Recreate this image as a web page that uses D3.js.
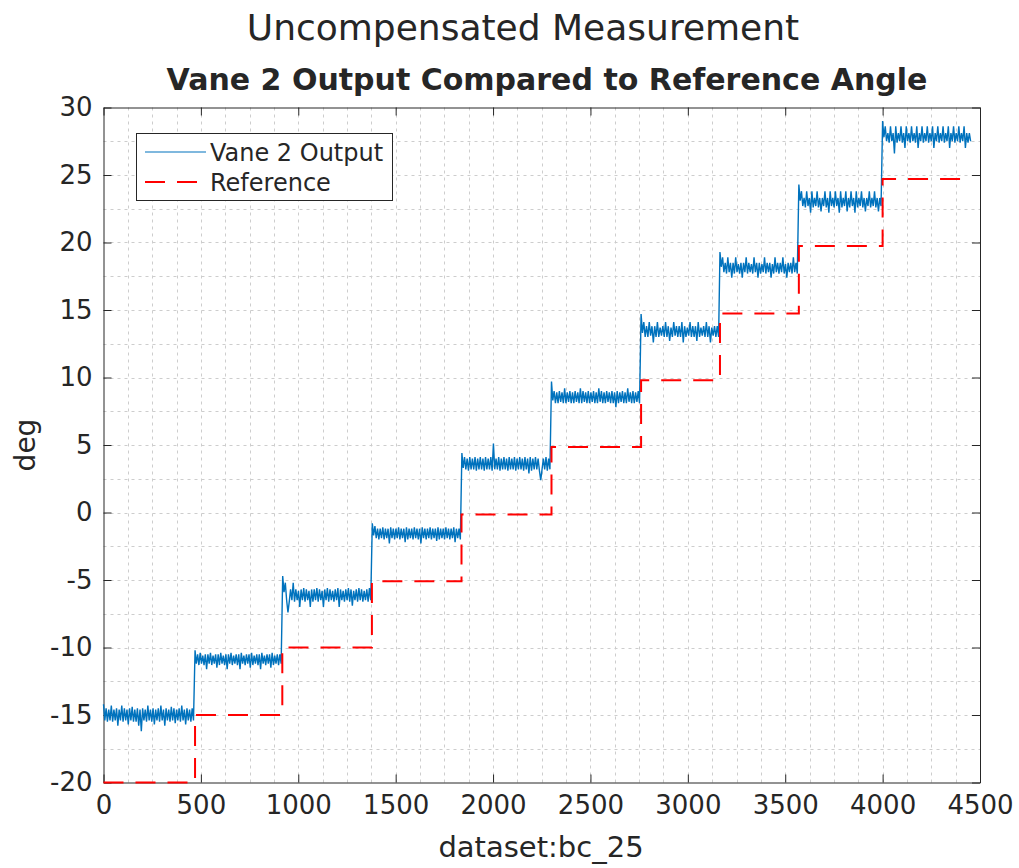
<!DOCTYPE html>
<html>
<head>
<meta charset="utf-8">
<script src="https://cdn.jsdelivr.net/npm/d3@7"></script>
<style>
  html, body { margin: 0; padding: 0; background: #ffffff; }
  svg { display: block; }
  text { font-family: "DejaVu Sans", sans-serif; fill: #262626; }
</style>
</head>
<body>
<svg id="chart" width="1019" height="868"></svg>
<script>
// ---- data -------------------------------------------------------------
const titleText = "Uncompensated Measurement";
const subtitleText = "Vane 2 Output Compared to Reference Angle";
const xLabelText = "dataset:bc_25";
const yLabelText = "deg";
const seriesNames = ["Vane 2 Output", "Reference"];

const xTicks = [0, 500, 1000, 1500, 2000, 2500, 3000, 3500, 4000, 4500];
const yTicks = [-20, -15, -10, -5, 0, 5, 10, 15, 20, 25, 30];

// reference angle: sample where each level begins, and its value (deg)
const refX = [0, 470, 918, 1378, 1838, 2300, 2760, 3165, 3570, 4000, 4450];
const refY = [-20, -15, -10, -5.1, -0.15, 4.85, 9.8, 14.75, 19.75, 24.7, 24.7];

// vane output: first and last sample of each held level
const vaneStart = [0, 470, 920, 1380, 1840, 2300, 2760, 3165, 3570, 4000];
const vaneEnd   = [462, 912, 1372, 1832, 2292, 2752, 3158, 3562, 3992, 4452];

// vane output readings (deg) across each level
const vane1 = [-14.2,-15.4,-14.5,-15.5,-14.6,-15.4,-14.3,-15.5,-14.6,-15.4,-14.5,-15.8,-14.6,-15.4,-14.3,-15.5,-14.5,-15.4,-14.6,-15.7,-14.5,-15.4,-14.4,-15.5,-14.6,-15.5,-14.5,-15.8,-14.6,-16.2,-14.5,-15.4,-14.6,-15.5,-14.3,-15.4,-14.6,-15.5,-14.5,-15.7,-14.6,-15.4,-14.5,-15.5,-14.3,-15.4,-14.6,-15.8,-14.5,-15.4,-14.6,-15.5,-14.4,-15.4,-14.5,-15.6,-14.6,-15.4,-14.5,-15.5,-14.3,-15.4,-14.6,-15.7,-14.5,-15.4,-14.6,-15.5,-14.5,-15.4];
const vane2 = [-10.2,-11.2,-10.5,-11.3,-10.4,-11.2,-10.6,-11.3,-10.5,-11.6,-10.5,-11.2,-10.4,-11.3,-10.6,-11.2,-10.5,-11.5,-10.5,-11.3,-10.4,-11.2,-10.6,-11.3,-10.5,-11.6,-10.5,-11.2,-10.4,-11.3,-10.6,-11.2,-10.5,-11.3,-10.5,-11.6,-10.4,-11.2,-10.6,-11.3,-10.5,-11.2,-10.5,-11.5,-10.4,-11.3,-10.6,-11.2,-10.5,-11.3,-10.5,-11.6,-10.4,-11.2,-10.6,-11.3,-10.5,-11.2,-10.5,-11.5,-10.4,-11.3,-10.6,-11.2,-10.5,-11.3,-10.5,-11.2];
const vane3 = [-4.7,-5.9,-5.2,-6.5,-7.4,-6.6,-5.7,-6.5,-5.2,-6.6,-5.7,-6.5,-5.8,-7.0,-5.7,-6.5,-5.6,-6.6,-5.7,-6.5,-5.8,-7.0,-5.7,-6.6,-5.7,-6.5,-5.6,-6.6,-5.7,-6.5,-5.8,-7.0,-5.7,-6.5,-5.6,-6.6,-5.7,-6.5,-5.8,-6.6,-5.7,-6.5,-5.6,-7.0,-5.7,-6.5,-5.8,-6.6,-5.7,-6.5,-5.6,-6.6,-5.7,-6.9,-5.8,-6.5,-5.7,-6.6,-5.6,-6.5,-5.7,-6.6,-5.8,-6.5,-5.7,-6.6,-5.6,-6.5];
const vane4 = [-0.8,-1.7,-1.0,-1.9,-1.2,-2.0,-1.2,-1.9,-1.1,-2.0,-1.2,-1.9,-1.2,-2.3,-1.1,-1.9,-1.2,-2.0,-1.2,-1.9,-1.1,-2.0,-1.2,-1.9,-1.2,-2.2,-1.1,-2.0,-1.2,-1.9,-1.2,-2.0,-1.1,-1.9,-1.2,-2.0,-1.2,-2.3,-1.1,-1.9,-1.2,-2.0,-1.2,-1.9,-1.1,-2.0,-1.2,-1.9,-1.2,-2.1,-1.1,-2.0,-1.2,-1.9,-1.2,-2.0,-1.1,-1.9,-1.2,-2.0,-1.2,-1.9,-1.1,-2.2,-1.2,-1.9,-1.2,-2.0];
const vane5 = [4.4,3.3,4.1,3.2,4.0,3.1,4.1,3.2,4.0,3.2,4.1,3.1,4.0,3.2,4.1,3.2,4.0,3.1,4.1,3.2,4.0,3.2,4.1,3.1,5.1,3.2,4.0,3.2,4.1,3.1,4.0,3.2,4.1,3.2,4.0,3.1,4.1,3.2,4.0,3.2,4.1,3.1,4.0,3.2,4.1,3.2,4.0,3.1,4.1,3.2,4.0,2.9,4.1,3.1,4.0,3.2,4.1,3.2,4.0,3.1,2.4,3.2,4.0,3.2,4.1,3.1,4.0,3.2];
const vane6 = [9.7,8.3,9.0,8.1,8.9,8.1,9.0,8.2,8.9,8.1,9.2,8.1,8.9,8.2,9.0,8.1,8.9,8.1,9.0,8.2,8.9,8.1,9.2,8.1,9.0,8.2,8.9,8.1,9.0,8.1,8.9,8.2,9.0,8.1,8.9,8.1,9.2,8.2,9.0,8.1,8.9,8.1,9.0,8.2,8.9,8.1,9.0,8.1,8.9,7.8,9.0,8.1,8.9,8.2,9.0,8.1,8.9,8.1,9.2,8.2,8.9,8.1,9.0,8.1,8.9,8.2,9.0,8.1];
const vane7 = [14.7,13.3,14.1,13.0,13.8,13.0,14.1,13.1,13.8,12.6,13.8,13.0,14.1,13.0,13.7,13.1,13.8,13.0,14.1,13.0,13.8,12.7,13.7,13.0,14.1,13.1,13.8,13.0,13.8,13.0,14.1,12.6,13.8,13.0,13.7,13.1,14.1,13.0,13.8,13.0,13.8,12.7,14.1,13.0,13.7,13.1,13.8,13.0,14.1,13.0,13.8,12.6,13.7,13.1,13.8,13.0,13.8,13.0];
const vane8 = [19.3,18.2,18.9,17.8,18.5,17.7,18.9,17.8,18.5,17.4,18.5,17.7,18.9,17.8,18.4,17.7,18.5,17.4,18.5,17.8,18.9,17.7,18.5,17.8,18.4,17.7,18.9,17.8,18.5,17.4,18.5,17.7,18.4,17.8,18.9,17.7,18.5,17.8,18.5,17.4,18.4,17.7,18.9,17.8,18.5,17.7,18.5,17.8,18.9,17.7,18.4,17.4,18.5,17.8,18.5,17.7,18.9,17.8,18.5,17.7];
const vane9 = [24.3,23.1,23.8,22.7,23.3,22.6,23.8,22.7,23.3,22.2,23.8,22.6,23.3,22.7,23.8,22.6,23.3,22.3,23.3,22.7,23.8,22.6,23.3,22.2,23.8,22.7,23.3,22.6,23.8,22.7,23.3,22.2,23.8,22.6,23.3,22.7,23.8,22.3,23.3,22.6,23.8,22.7,23.3,22.2,23.8,22.6,23.3,22.7,23.8,22.6,23.3,22.3,23.3,22.7,23.8,22.6,23.3,22.7,23.8,22.6,23.3,22.3,23.3,22.7];
const vane10 = [29.0,27.8,28.6,27.5,28.1,27.4,28.6,27.5,28.1,26.6,28.6,27.4,28.1,27.5,28.6,27.4,28.1,27.0,28.6,27.5,28.1,27.4,28.6,27.5,28.1,27.4,28.6,27.0,28.1,27.5,28.6,27.4,28.1,27.5,28.6,27.4,28.1,27.5,28.6,27.0,28.1,27.5,28.6,27.4,28.1,27.5,28.6,27.4,28.1,27.5,28.6,27.0,28.1,27.5,28.6,27.4,28.1,27.5,28.6,27.4,28.1,27.5,28.6,27.0,28.1,27.4,28.1,27.5];
const vaneLevels = [vane1, vane2, vane3, vane4, vane5, vane6, vane7, vane8, vane9, vane10];

// ---- layout -------------------------------------------------------------
const svg = d3.select("#chart");
const W = 1019, H = 868;
const plot = { left: 103.5, right: 980, top: 107.5, bottom: 782.5 };
const ink = "#262626";
const blue = "#0072BD";
const red = "#FF0000";

svg.append("rect").attr("width", W).attr("height", H).attr("fill", "#ffffff");

const x = d3.scaleLinear().domain([0, 4500]).range([plot.left, plot.right]);
const y = d3.scaleLinear().domain([-20, 30]).range([plot.bottom, plot.top]);

function label(g, px, py, txt, size, anchor, weight, rot) {
  return g.append("text")
    .attr("transform", `translate(${px},${py})` + (rot ? ` rotate(${rot})` : ""))
    .attr("text-anchor", anchor)
    .attr("font-size", size)
    .attr("font-weight", weight || "normal")
    .text(txt);
}

// ---- grid -------------------------------------------------------------
const grid = svg.append("g").attr("stroke", "#cdcdcd").attr("stroke-width", 1)
  .attr("stroke-dasharray", "3,4").attr("fill", "none");
const xGrid = d3.range(0, 4500 + 1, 125);
const yGrid = d3.range(-20, 30 + 0.01, 2.5);
grid.selectAll("line.gx").data(xGrid.filter(v => v > 0 && v < 4500)).join("line")
  .attr("x1", d => Math.round(x(d)) + 0.5).attr("x2", d => Math.round(x(d)) + 0.5)
  .attr("y1", plot.top).attr("y2", plot.bottom);
grid.selectAll("line.gy").data(yGrid.filter(v => v > -20 && v < 30)).join("line")
  .attr("y1", d => Math.round(y(d)) + 0.5).attr("y2", d => Math.round(y(d)) + 0.5)
  .attr("x1", plot.left).attr("x2", plot.right);

// ---- axes (box with inward ticks) ------------------------------------
const tickLen = 8;
const fmt = d => String(d);   // plain hyphen for negatives
function styleAxis(g) {
  g.select(".domain").attr("stroke", ink).attr("stroke-width", 1);
  g.selectAll(".tick line").attr("stroke", ink).attr("stroke-width", 1);
}
const gxB = svg.append("g").attr("transform", `translate(0,${plot.bottom})`)
  .call(d3.axisBottom(x).tickValues(xTicks).tickFormat(fmt)
    .tickSizeInner(-tickLen).tickSizeOuter(0).tickPadding(13));
styleAxis(gxB);
gxB.selectAll(".tick text")
  .attr("font-family", "DejaVu Sans").attr("font-size", 26).attr("fill", ink);

const gyL = svg.append("g").attr("transform", `translate(${plot.left},0)`)
  .call(d3.axisLeft(y).tickValues(yTicks).tickFormat(fmt)
    .tickSizeInner(-tickLen).tickSizeOuter(0).tickPadding(11));
styleAxis(gyL);
gyL.selectAll(".tick text")
  .attr("font-family", "DejaVu Sans").attr("font-size", 26).attr("fill", ink)
  .attr("x", -11);

const gxT = svg.append("g").attr("transform", `translate(0,${plot.top})`)
  .call(d3.axisTop(x).tickValues(xTicks).tickFormat("").tickSizeInner(-tickLen).tickSizeOuter(0));
styleAxis(gxT);
const gyR = svg.append("g").attr("transform", `translate(${plot.right},0)`)
  .call(d3.axisRight(y).tickValues(yTicks).tickFormat("").tickSizeInner(-tickLen).tickSizeOuter(0));
styleAxis(gyR);

// ---- series -------------------------------------------------------------
const vanePoints = [];
vaneLevels.forEach((vals, k) => {
  const ix = d3.scaleLinear().domain([0, vals.length - 1]).range([vaneStart[k], vaneEnd[k]]);
  vals.forEach((v, i) => vanePoints.push([ix(i), v]));
});
const refPoints = refX.map((v, i) => [v, refY[i]]);

const line = d3.line().x(d => x(d[0])).y(d => y(d[1]));
const stepLine = d3.line().x(d => x(d[0])).y(d => y(d[1])).curve(d3.curveStepAfter);

svg.append("path").datum(vanePoints).attr("d", line)
  .attr("fill", "none").attr("stroke", blue).attr("stroke-width", 1.4)
  .attr("stroke-linejoin", "bevel");
svg.append("path").datum(refPoints).attr("d", stepLine)
  .attr("fill", "none").attr("stroke", red).attr("stroke-width", 2)
  .attr("stroke-dasharray", "20,12");

// ---- legend -------------------------------------------------------------
const lg = svg.append("g");
lg.append("rect").attr("x", 136.5).attr("y", 133.5).attr("width", 256).attr("height", 67)
  .attr("fill", "#ffffff").attr("stroke", ink).attr("stroke-width", 1);
const legRows = [152, 182];
lg.append("line").attr("x1", 145).attr("x2", 206).attr("y1", legRows[0]).attr("y2", legRows[0])
  .attr("stroke", blue).attr("stroke-width", 1.2);
lg.append("line").attr("x1", 145).attr("x2", 206).attr("y1", legRows[1]).attr("y2", legRows[1])
  .attr("stroke", red).attr("stroke-width", 2).attr("stroke-dasharray", "20,12");
seriesNames.forEach((n, i) => label(lg, 210, legRows[i] + 9, n, 24, "start"));

// ---- titles and axis labels -----------------------------------------
label(svg, 523, 40, titleText, 36, "middle");
label(svg, 547, 90, subtitleText, 30, "middle", "bold");
label(svg, 541, 857, xLabelText, 29, "middle");
label(svg, 35, 445, yLabelText, 28, "middle", "normal", -90);
</script>
</body>
</html>
